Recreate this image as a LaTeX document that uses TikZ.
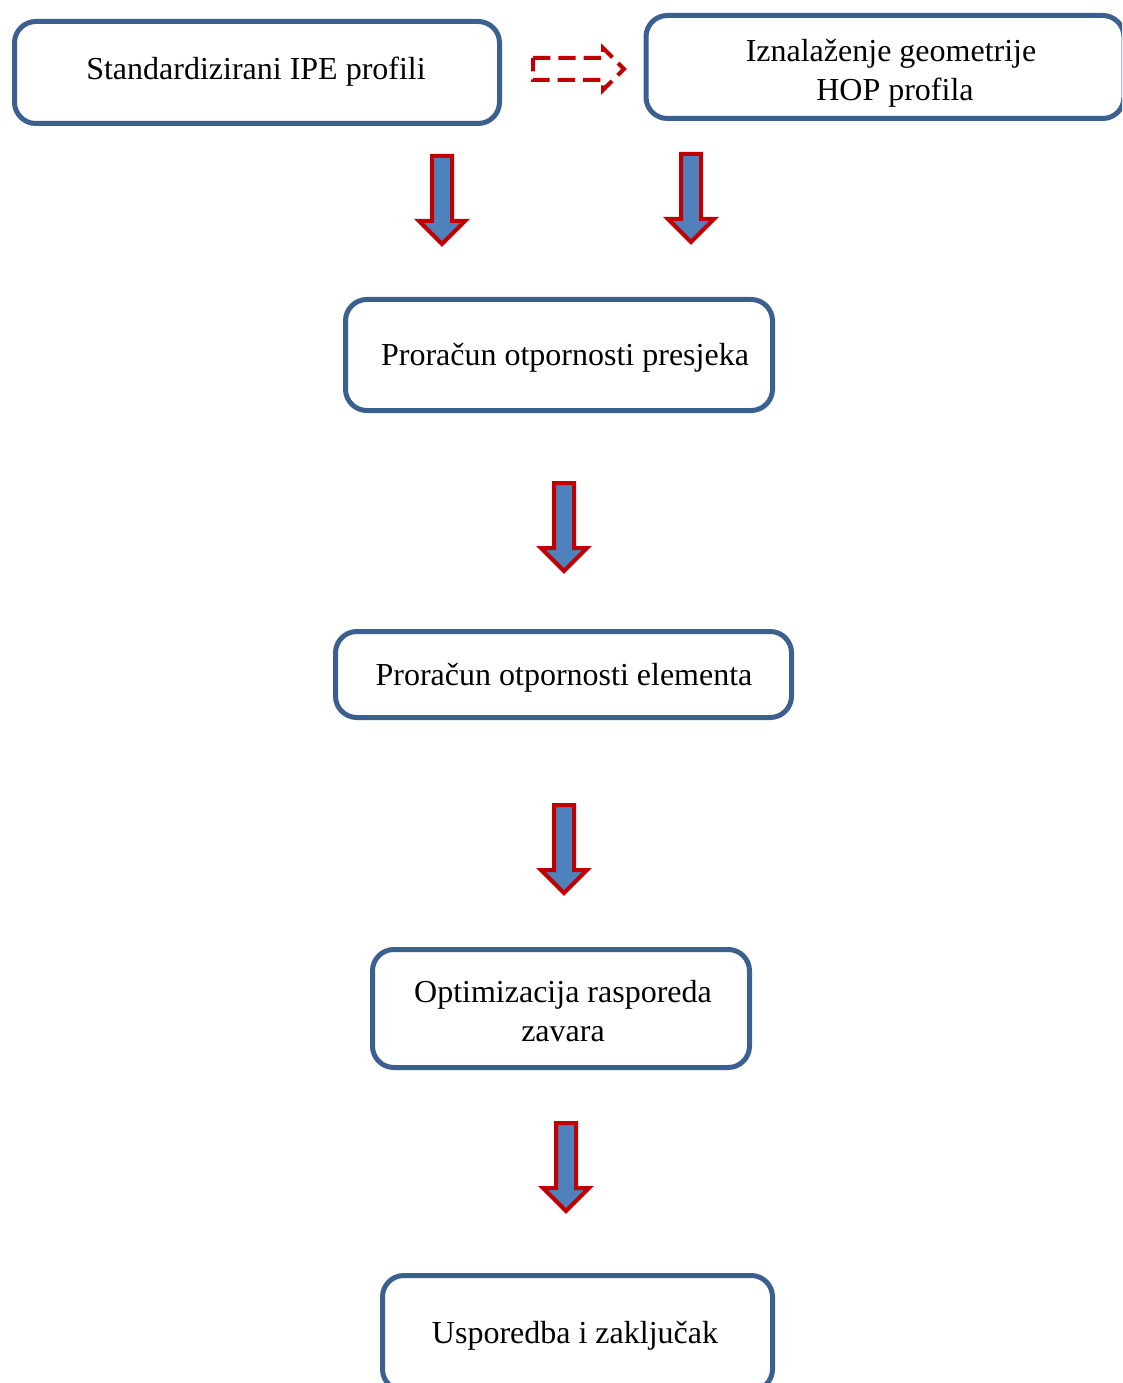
\documentclass[tikz,border=0pt]{standalone}
\usepackage{fontspec}
\setmainfont{Liberation Serif}
\definecolor{boxblue}{HTML}{3B5F8E}
\definecolor{arrowred}{HTML}{C00000}
\definecolor{arrowfill}{HTML}{4F81BD}
\tikzset{
  flowbox/.style={draw=boxblue, line width=3.75pt, rounded corners=16pt,
    fill=white, inner sep=0pt},
  boxtext/.style={inner sep=0pt, align=center,
    font=\fontsize{24}{29}\selectfont},
  downarrow/.pic={
    \draw[draw=arrowred, fill=arrowfill, line width=3pt, line join=miter]
      (-10,0) -- (10,0) -- (10,65) -- (23,65) -- (0,88) -- (-23,65)
      -- (-10,65) -- cycle;
  },
  dashedarrow/.pic={
    \draw[draw=arrowred, line width=3pt, dash pattern=on 13pt off 6pt,
      line join=miter]
      (0,-11) -- (70,-11) -- (70,-21) -- (91,0) -- (70,21) -- (70,11)
      -- (0,11) -- cycle;
  }
}
\begin{document}
\begin{tikzpicture}[x=0.75pt, y=-0.75pt]
  \useasboundingbox (0,0) rectangle (1122,1383);
  \clip (0,0) rectangle (1122,1383);

  % process boxes
  \node[flowbox, minimum width=485*0.75pt, minimum height=102*0.75pt]
    (ipe) at (257,72.5) {};
  \node[flowbox, minimum width=478*0.75pt, minimum height=103*0.75pt]
    (hop) at (885,67) {};
  \node[flowbox, minimum width=427*0.75pt, minimum height=111*0.75pt]
    (presjek) at (559,355) {};
  \node[flowbox, minimum width=456*0.75pt, minimum height=86*0.75pt]
    (element) at (563.5,674.5) {};
  \node[flowbox, minimum width=377*0.75pt, minimum height=118*0.75pt]
    (zavari) at (561,1008.5) {};
  \node[flowbox, minimum width=390*0.75pt, minimum height=115*0.75pt]
    (zakljucak) at (577.5,1333) {};

  % box labels
  \node[boxtext] (ipe-t) at (256,72) {Standardizirani IPE profili};
  \node[boxtext] (hop-t) at (891,73) {Iznalaženje geometrije\\\hspace*{6pt}HOP profila};
  \node[boxtext] (presjek-t) at (565,358) {Proračun otpornosti presjeka};
  \node[boxtext] (element-t) at (564,677.5) {Proračun otpornosti elementa};
  \node[boxtext] (zavari-t) at (563,1011) {Optimizacija rasporeda\\zavara};
  \node[boxtext] (zakljucak-t) at (575,1336) {Usporedba i zaključak};

  % block arrows between the steps
  \pic at (533,69) {dashedarrow};
  \pic at (442,156) {downarrow};
  \pic at (691,154) {downarrow};
  \pic at (564,483) {downarrow};
  \pic at (564,805) {downarrow};
  \pic at (566,1123) {downarrow};
\end{tikzpicture}
\end{document}
